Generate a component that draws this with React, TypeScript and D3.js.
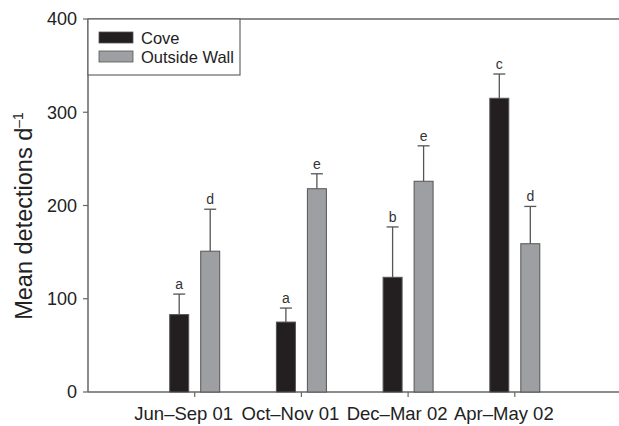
import React from "react";
import * as d3 from "d3";

const periods = ["Jun–Sep 01", "Oct–Nov 01", "Dec–Mar 02", "Apr–May 02"];
const coveMean = [83, 75, 123, 315];
const coveErr = [22, 15, 54, 26];
const coveLetters = ["a", "a", "b", "c"];
const wallMean = [151, 218, 226, 159];
const wallErr = [45, 16, 38, 40];
const wallLetters = ["d", "e", "e", "d"];
const yTicks = [0, 100, 200, 300, 400];

const width = 619;
const height = 426;
const left = 88;
const top = 19;
const bottom = 392;

export default function App() {
  const x = d3.scalePoint<string>().domain(periods).range([left, 621.5]).padding(1);
  const y = d3.scaleLinear().domain([0, 400]).range([bottom, top]);
  const barW = 19;
  const offset = 6;
  const axisColor = "#666";
  const font = "'Liberation Sans', Arial, sans-serif";

  const series = [
    { mean: coveMean, err: coveErr, letters: coveLetters, fill: "#231f20", dx: -offset - barW },
    { mean: wallMean, err: wallErr, letters: wallLetters, fill: "#9d9fa2", dx: offset },
  ];

  return (
    <svg width={width} height={height} style={{ position: "absolute", left: 0, top: 0 }} fontFamily={font}>
      {/* frame lines */}
      <line x1={left} x2={width} y1={top} y2={top} stroke={axisColor} strokeWidth={1.5} />
      <line x1={left} x2={width} y1={bottom} y2={bottom} stroke={axisColor} strokeWidth={1.5} />
      <line x1={left} x2={left} y1={top} y2={bottom} stroke={axisColor} strokeWidth={1.5} />

      {yTicks.map((t) => (
        <g key={t}>
          <line x1={left - 5} x2={left} y1={y(t)} y2={y(t)} stroke={axisColor} strokeWidth={1.2} />
          <text x={left - 11} y={y(t)} dy="0.36em" textAnchor="end" fontSize={18} fill="#222">
            {t}
          </text>
        </g>
      ))}

      {periods.map((p) => (
        <g key={p}>
          <line x1={x(p)!} x2={x(p)!} y1={bottom} y2={bottom + 5} stroke={axisColor} strokeWidth={1.2} />
          <text x={x(p)! - 11} y={420} textAnchor="middle" fontSize={18.5} fill="#222">
            {p}
          </text>
        </g>
      ))}

      {series.map((s, si) =>
        periods.map((p, i) => {
          const bx = x(p)! + s.dx;
          const cx = bx + barW / 2;
          const capY = y(s.mean[i] + s.err[i]);
          return (
            <g key={`${si}-${i}`}>
              <line x1={cx} x2={cx} y1={y(s.mean[i])} y2={capY} stroke="#555" strokeWidth={1.3} />
              <line x1={cx - 6} x2={cx + 6} y1={capY} y2={capY} stroke="#555" strokeWidth={1.3} />
              <rect
                x={bx}
                y={y(s.mean[i])}
                width={barW}
                height={bottom - y(s.mean[i])}
                fill={s.fill}
                stroke="#555"
                strokeWidth={1}
              />
              <text x={cx} y={capY - 5} textAnchor="middle" fontSize={14} fill="#333">
                {s.letters[i]}
              </text>
            </g>
          );
        })
      )}

      {/* legend */}
      <rect x={left} y={top} width={152} height={56} fill="white" stroke={axisColor} strokeWidth={1.2} />
      <rect x={99} y={32} width={34} height={11} fill="#231f20" stroke="#555" strokeWidth={0.8} />
      <rect x={99} y={51} width={34} height={11} fill="#9d9fa2" stroke="#555" strokeWidth={0.8} />
      <text x={141} y={44} fontSize={16.5} fill="#222">Cove</text>
      <text x={141} y={63} fontSize={16.5} fill="#222">Outside Wall</text>

      <text transform={`translate(32, 216) rotate(-90)`} textAnchor="middle" fontSize={23.5} fill="#222">
        Mean detections d<tspan dy="-9" fontSize={14}>–1</tspan>
      </text>
    </svg>
  );
}
